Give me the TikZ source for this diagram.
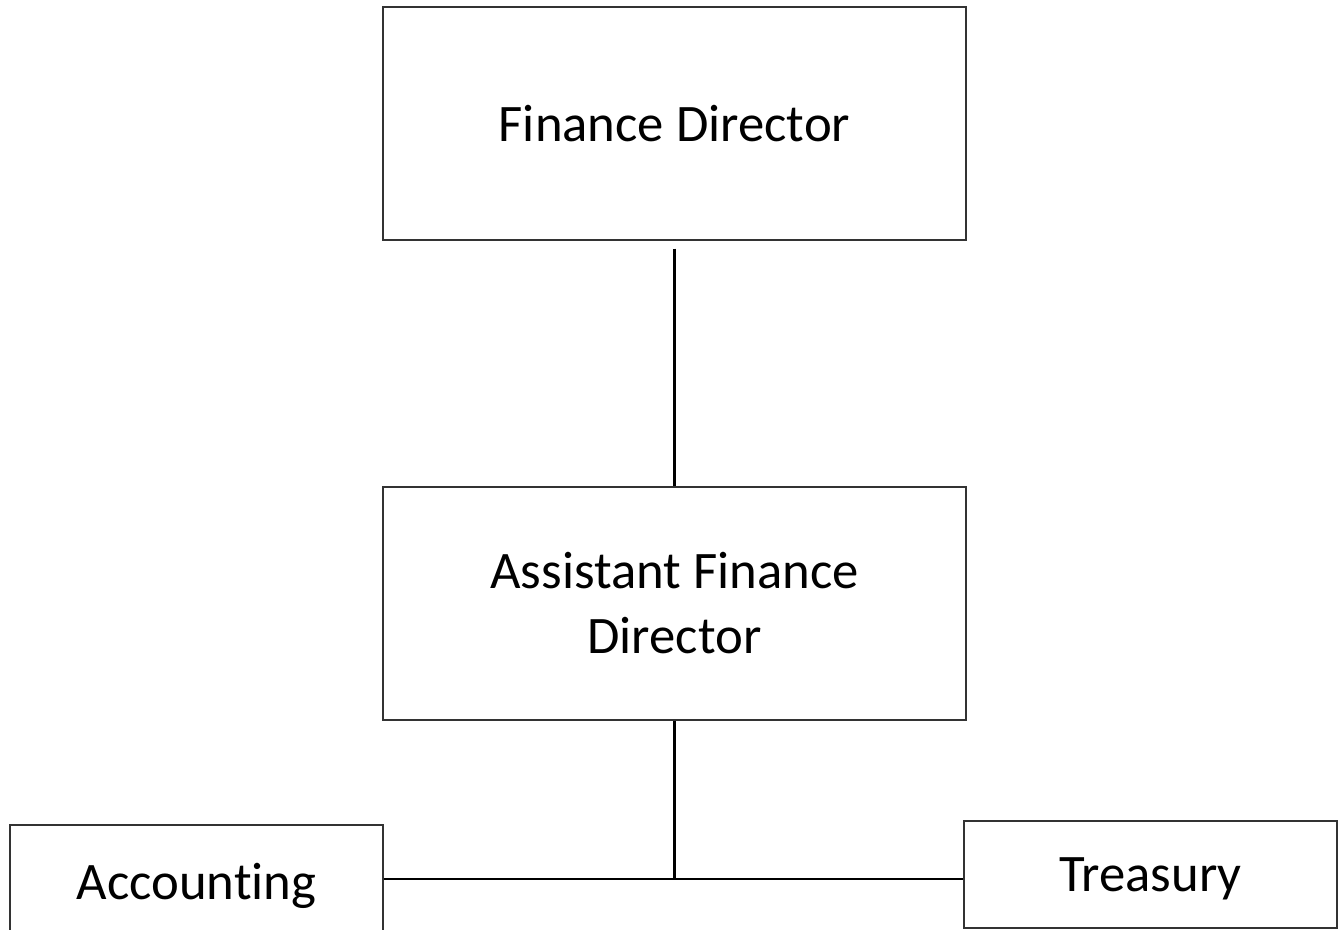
\documentclass[tikz,border=0pt]{standalone}
\usepackage{fontspec}
\setmainfont{Carlito}[Ligatures=NoCommon]
\usepackage{tikz}
\usetikzlibrary{positioning}
\tikzstyle{block}=[draw=black!80, rectangle, line width=0.8pt, align=center, font=\fontsize{30}{37}\selectfont, inner sep=0pt]
\tikzstyle{unit}=[block, text depth=0pt]
\tikzstyle{line}=[draw, line width=1.4pt]

\begin{document}
\begin{tikzpicture}[x=0.02cm, y=-0.02cm]
		\clip (0,0) rectangle (1340,930);
		\useasboundingbox (0,0) rectangle (1340,930);
		\node[block, minimum width=583*0.02cm, minimum height=233*0.02cm] (FD) at (674.5,123.5) {Finance Director};
		\node[block, minimum width=583*0.02cm, minimum height=233*0.02cm] (AFD) at (674.5,603.5) {Assistant Finance\\Director};
		\node[unit, minimum width=373*0.02cm, minimum height=112*0.02cm] (ACC) at (196.5,881) {Accounting};
		\node[unit, minimum width=373*0.02cm, minimum height=107*0.02cm] (TRE) at (1150.5,874.5) {Treasury};
		\coordinate (J) at (674.5,879);
		\draw[line, shorten <=8*0.02cm] (FD) -- (AFD);
		\draw[line] (AFD) -- (J);
		\draw[line] (ACC.east |- J) -- (TRE.west |- J);
	\end{tikzpicture}
\end{document}
